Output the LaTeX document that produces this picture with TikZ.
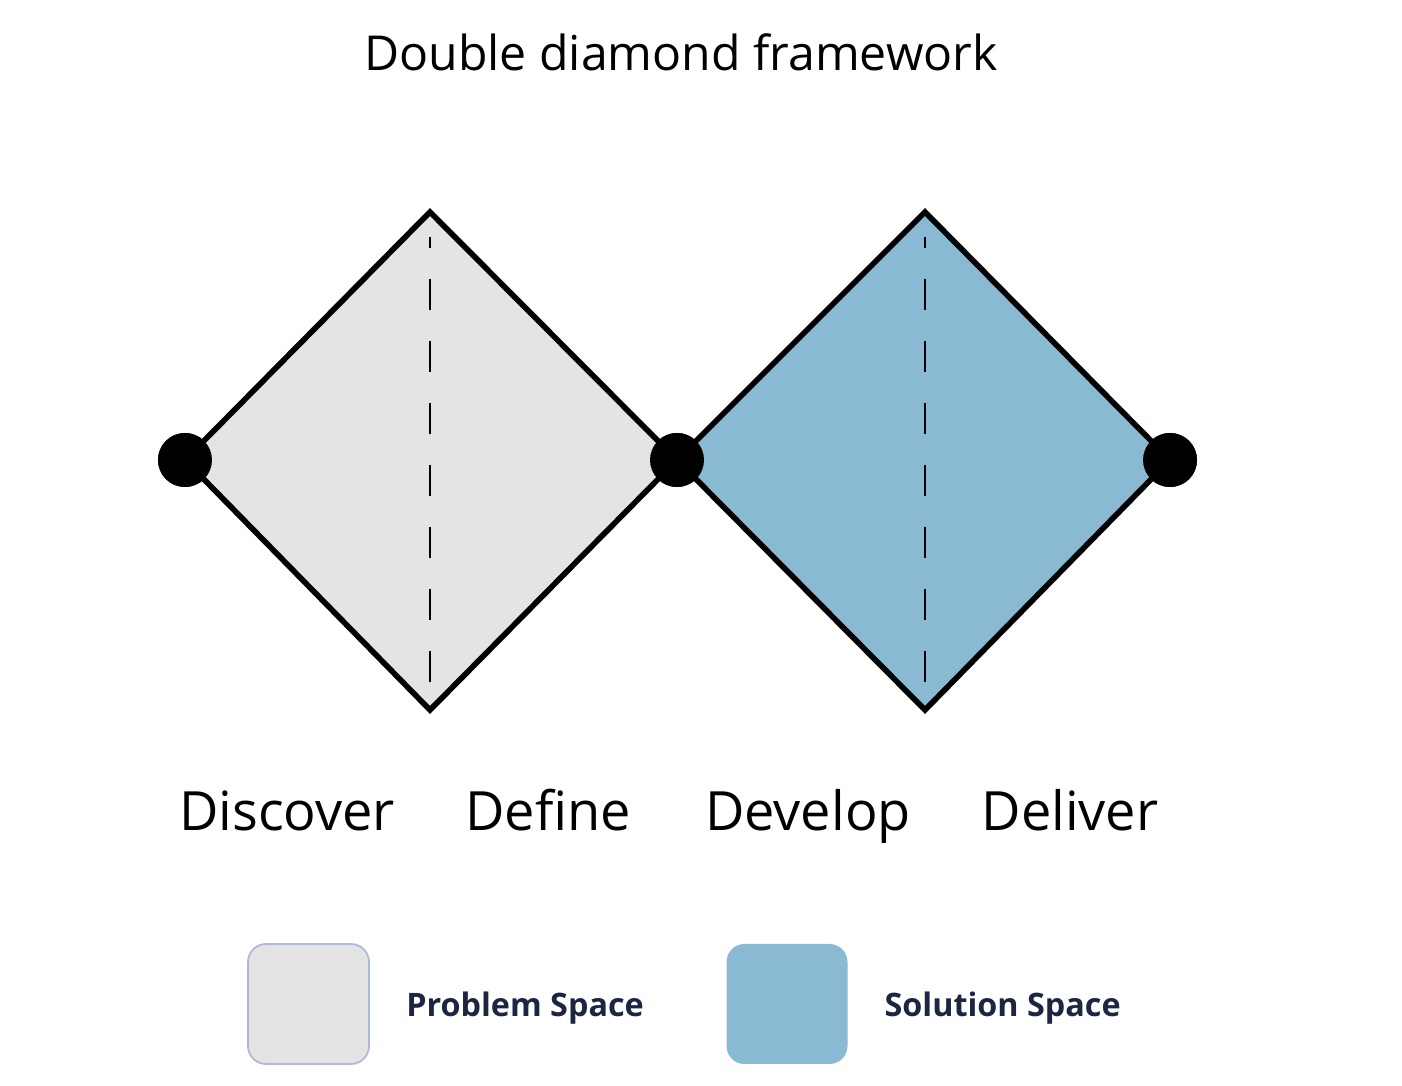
\documentclass[tikz,border=0pt]{standalone}
\usepackage{fontspec}
\setmainfont{Open Sans}
\usetikzlibrary{positioning}
\definecolor{probgray}{HTML}{E4E4E4}
\definecolor{solblue}{HTML}{8AB9D4}
\definecolor{legedge}{HTML}{AEB8D8}
\definecolor{legnavy}{HTML}{1C2541}
\tikzset{
 dot/.style={circle,fill=black,minimum size=0.54cm,inner sep=0pt},
 edge/.style={line width=1.6pt,line join=miter},
 midline/.style={line width=0.65pt,dash pattern=on 0.31cm off 0.31cm,dash phase=0.2cm},
 phase/.style={anchor=base,font=\fontsize{15.4}{18}\selectfont},
 legbox/.style={rounded corners=0.18cm,minimum width=1.21cm,minimum height=1.2cm,inner sep=0pt},
 legtext/.style={font=\fontsize{9.2}{11}\selectfont\bfseries,text=legnavy}
}

\begin{document}
\begin{tikzpicture}
 \useasboundingbox (0,0) rectangle (14.02,-10.86);
 \node (title) at (6.81,-0.52) {\fontsize{13.7}{16}\selectfont Double diamond framework};
 % diamond corners
 \coordinate (top1) at (4.30,-2.12);
 \coordinate (bot1) at (4.30,-7.10);
 \coordinate (top2) at (9.25,-2.12);
 \coordinate (bot2) at (9.25,-7.10);
 \node[dot] (start) at (1.85,-4.60) {};
 \node[dot] (mid) at (6.77,-4.60) {};
 \node[dot] (end) at (11.70,-4.60) {};
 \fill[probgray] (start.center)--(top1)--(mid.center)--(bot1)--cycle;
 \fill[solblue] (mid.center)--(top2)--(end.center)--(bot2)--cycle;
 \draw[edge] (start.center)--(top1)--(mid.center)--(bot1)--cycle;
 \draw[edge] (mid.center)--(top2)--(end.center)--(bot2)--cycle;
 \draw[midline] (4.30,-2.37)--(4.30,-6.85);
 \draw[midline] (9.25,-2.37)--(9.25,-6.85);
 \node[dot] at (start) {};
 \node[dot] at (mid) {};
 \node[dot] at (end) {};
 % phase names
 \node[phase] (discover) at (2.87,-8.31) {Discover};
 \node[phase] (define) at (5.48,-8.31) {Define};
 \node[phase] (develop) at (8.08,-8.31) {Develop};
 \node[phase] (deliver) at (10.70,-8.31) {Deliver};
 % legend
 \node[legbox,fill=probgray,draw=legedge,line width=0.5pt] (probbox) at (3.085,-10.04) {};
 \node[legtext,right=0.24cm of probbox,yshift=-0.04cm] (probtext) {Problem Space};
 \node[legbox,fill=solblue] (solbox) at (7.87,-10.04) {};
 \node[legtext,right=0.24cm of solbox,yshift=-0.04cm] (soltext) {Solution Space};
\end{tikzpicture}
\end{document}
